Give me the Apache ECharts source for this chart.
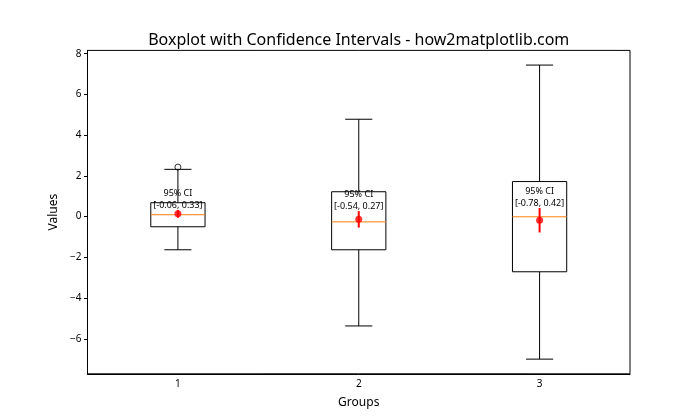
<!DOCTYPE html>
<html>
<head>
<meta charset="utf-8">
<script src="https://cdn.jsdelivr.net/npm/echarts@6/dist/echarts.min.js"></script>
<style>html,body{margin:0;padding:0;background:#fff}#c{width:700px;height:420px}</style>
</head>
<body>
<div id="c"></div>
<script>
const categories = ['1', '2', '3'];
const whiskerLow = [-1.63, -5.37, -7.0];
const q1 = [-0.50, -1.63, -2.71];
const median = [0.09, -0.26, -0.01];
const q3 = [0.68, 1.22, 1.72];
const whiskerHigh = [2.32, 4.78, 7.44];
const means = [0.135, -0.135, -0.18];
const ciLow = [-0.06, -0.54, -0.78];
const ciHigh = [0.33, 0.27, 0.42];
const outliers = [[0, 2.43]];
const yTicks = [-6, -4, -2, 0, 2, 4, 6, 8];
const yMin = -7.72, yMax = 8.16;

const FONT = '"Noto Sans", "Open Sans", sans-serif';
const fmt = v => v.toFixed(2);

const boxData = categories.map((c, i) => [i, whiskerLow[i], q1[i], median[i], q3[i], whiskerHigh[i], means[i], ciLow[i], ciHigh[i]]);

function renderBox(params, api) {
  const i = api.value(0);
  const band = api.size([1, 0])[0];
  const hw = band * 0.15;
  const cw = hw / 2;
  const pWL = api.coord([i, api.value(1)]);
  const pQ1 = api.coord([i, api.value(2)]);
  const pMed = api.coord([i, api.value(3)]);
  const pQ3 = api.coord([i, api.value(4)]);
  const pWH = api.coord([i, api.value(5)]);
  const pCL = api.coord([i, api.value(7)]);
  const pCH = api.coord([i, api.value(8)]);
  const pTxt = api.coord([i, api.value(8) + 0.5]);
  const x = pQ1[0];
  const blk = { stroke: '#000', lineWidth: 1 };
  const children = [
    { type: 'line', shape: { x1: x, y1: pWL[1], x2: x, y2: pQ1[1] }, style: blk },
    { type: 'line', shape: { x1: x, y1: pQ3[1], x2: x, y2: pWH[1] }, style: blk },
    { type: 'line', shape: { x1: x - cw, y1: pWL[1], x2: x + cw, y2: pWL[1] }, style: blk },
    { type: 'line', shape: { x1: x - cw, y1: pWH[1], x2: x + cw, y2: pWH[1] }, style: blk },
    { type: 'rect', shape: { x: x - hw, y: pQ3[1], width: 2 * hw, height: pQ1[1] - pQ3[1] }, style: { fill: 'none', stroke: '#000', lineWidth: 1 } },
    { type: 'line', shape: { x1: x - hw, y1: pMed[1], x2: x + hw, y2: pMed[1] }, style: { stroke: '#ff7f0e', lineWidth: 1 } },
    { type: 'line', shape: { x1: x, y1: pCL[1], x2: x, y2: pCH[1] }, style: { stroke: '#ff0000', lineWidth: 2 } },
    { type: 'text', style: {
        text: '95% CI\n[' + fmt(api.value(7)) + ', ' + fmt(api.value(8)) + ']',
        x: x, y: pTxt[1], align: 'center', verticalAlign: 'middle',
        fontSize: 9, fontFamily: FONT, fill: '#000', lineHeight: 12 } }
  ];
  return { type: 'group', children };
}

const chart = echarts.init(document.getElementById('c'), null, { renderer: 'canvas' });
chart.setOption({
  animation: false,
  backgroundColor: '#fff',
  graphic: [{
    type: 'text', x: 358.75, y: 40,
    style: { text: 'Boxplot with Confidence Intervals - how2matplotlib.com', align: 'center', verticalAlign: 'middle',
      fontFamily: FONT, fontSize: 16, fill: '#000' }
  }],
  grid: { left: 87.5, right: 70, top: 50.4, bottom: 46.2, show: true, borderColor: '#000', borderWidth: 1 },
  xAxis: {
    type: 'category', data: categories, boundaryGap: true,
    name: 'Groups', nameLocation: 'middle', nameGap: 23,
    nameTextStyle: { fontFamily: FONT, fontSize: 12, color: '#000' },
    axisLine: { onZero: false, lineStyle: { color: '#000' } },
    axisTick: { alignWithLabel: true, length: 3.5, lineStyle: { color: '#000' } },
    axisLabel: { fontFamily: FONT, fontSize: 10, color: '#000', margin: 5 },
    splitLine: { show: false }
  },
  yAxis: {
    type: 'value', min: yMin, max: yMax,
    name: 'Values', nameLocation: 'middle', nameGap: 25,
    nameTextStyle: { fontFamily: FONT, fontSize: 12, color: '#000' },
    axisLine: { show: true, onZero: false, lineStyle: { color: '#000' } },
    axisTick: { show: true, length: 3.5, lineStyle: { color: '#000' }, customValues: yTicks },
    axisLabel: { fontFamily: FONT, fontSize: 10, color: '#000', margin: 6,
      customValues: yTicks, formatter: v => String(v).replace('-', '\u2212') },
    splitLine: { show: false }
  },
  series: [
    {
      type: 'custom', renderItem: renderBox, data: boxData,
      encode: { x: 0, y: [1, 2, 3, 4, 5] }, z: 2
    },
    {
      type: 'scatter', data: outliers, symbol: 'circle', symbolSize: 6, z: 3,
      itemStyle: { color: 'rgba(0,0,0,0)', borderColor: '#000', borderWidth: 1 }
    },
    {
      type: 'scatter', data: means.map((m, i) => [i, m]), symbol: 'circle', symbolSize: 7, z: 4,
      itemStyle: { color: '#ff0000' }
    }
  ]
});
</script>
</body>
</html>
